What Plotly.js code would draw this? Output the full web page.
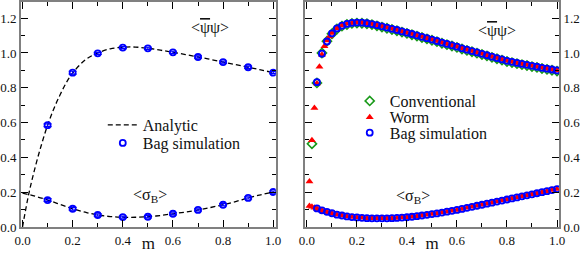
<!DOCTYPE html>
<html>
<head>
<meta charset="utf-8">
<script src="https://cdn.plot.ly/plotly-3.0.1.min.js"></script>
</head>
<body style="margin:0">
<div id="chart" style="width:581px;height:253px"></div>
<script>
// ---------- Left panel data ----------
var mAnPsi = [0, 0.025, 0.05, 0.075, 0.1, 0.125, 0.15, 0.175, 0.2, 0.25, 0.3, 0.35, 0.4, 0.45, 0.5, 0.55, 0.6, 0.65, 0.7, 0.75, 0.8, 0.85, 0.9, 0.95, 1.0];
var psiAn  = [0, 0.19, 0.34, 0.47, 0.585, 0.68, 0.76, 0.83, 0.885, 0.96, 1.0, 1.024, 1.033, 1.034, 1.027, 1.016, 1.004, 0.991, 0.977, 0.963, 0.948, 0.933, 0.918, 0.903, 0.887];
var mAnSig = [0, 0.05, 0.1, 0.15, 0.2, 0.25, 0.3, 0.35, 0.4, 0.45, 0.5, 0.55, 0.6, 0.65, 0.7, 0.75, 0.8, 0.85, 0.9, 0.95, 1.0];
var sigAn  = [0.195, 0.177, 0.155, 0.13, 0.105, 0.085, 0.069, 0.060, 0.056, 0.056, 0.059, 0.066, 0.076, 0.086, 0.098, 0.112, 0.128, 0.146, 0.167, 0.185, 0.201];
var mBagL   = [0.1, 0.2, 0.3, 0.4, 0.5, 0.6, 0.7, 0.8, 0.9, 1.0];
var psiBagL = [0.585, 0.887, 0.998, 1.031, 1.027, 1.004, 0.977, 0.948, 0.918, 0.887];
var sigBagL = [0.155, 0.105, 0.069, 0.057, 0.059, 0.076, 0.098, 0.128, 0.167, 0.201];
var errBagL = [0.008, 0.008, 0.006, 0.006, 0.006, 0.006, 0.006, 0.006, 0.006, 0.006];

// ---------- Right panel data ----------
var mWorm = [0.01,0.02,0.03,0.04,0.05,0.06,0.07,0.08,0.09,0.10,
  0.12,0.14,0.16,0.18,0.20,0.22,0.24,0.26,0.28,0.30,0.32,0.34,0.36,0.38,0.40,0.42,0.44,0.46,0.48,0.50,
  0.52,0.54,0.56,0.58,0.60,0.62,0.64,0.66,0.68,0.70,0.72,0.74,0.76,0.78,0.80,0.82,0.84,0.86,0.88,0.90,
  0.92,0.94,0.96,0.98,1.00];
var psiWorm = [0.262,0.498,0.684,0.825,0.921,0.990,1.038,1.072,1.095,1.115,
  1.142,1.158,1.168,1.173,1.175,1.174,1.171,1.166,1.160,1.153,1.146,1.139,1.132,1.124,1.117,1.109,1.101,1.093,1.085,1.077,
  1.069,1.060,1.052,1.044,1.036,1.027,1.019,1.011,1.003,0.995,0.987,0.979,0.971,0.963,0.955,0.949,0.943,0.937,0.932,0.926,
  0.921,0.915,0.910,0.905,0.900];
var sigWorm = [0.121,0.117,0.111,0.105,0.100,0.095,0.090,0.086,0.082,0.078,
  0.071,0.066,0.061,0.057,0.055,0.053,0.051,0.050,0.050,0.050,0.050,0.051,0.052,0.054,0.056,0.059,0.062,0.066,0.070,0.074,
  0.078,0.083,0.088,0.093,0.098,0.104,0.110,0.116,0.122,0.128,0.134,0.140,0.146,0.152,0.158,0.164,0.170,0.176,0.182,0.188,
  0.194,0.200,0.206,0.212,0.218];

var mConv = [0.02,0.04,0.06,0.08,0.10,
  0.12,0.14,0.16,0.18,0.20,0.22,0.24,0.26,0.28,0.30,0.32,0.34,0.36,0.38,0.40,0.42,0.44,0.46,0.48,0.50,
  0.52,0.54,0.56,0.58,0.60,0.62,0.64,0.66,0.68,0.70,0.72,0.74,0.76,0.78,0.80,0.82,0.84,0.86,0.88,0.90,
  0.92,0.94,0.96,0.98,1.00];
var psiConv = [0.478,0.828,1.000,1.068,1.110,
  1.138,1.154,1.164,1.170,1.172,1.171,1.168,1.163,1.156,1.149,1.142,1.135,1.128,1.120,1.113,1.105,1.097,1.089,1.081,1.073,
  1.065,1.056,1.048,1.040,1.032,1.023,1.015,1.007,0.999,0.991,0.983,0.975,0.967,0.959,0.951,0.945,0.939,0.933,0.928,0.922,
  0.917,0.911,0.906,0.901,0.896];

var mBagR = [0.04,0.06,0.08,0.10,
  0.12,0.14,0.16,0.18,0.20,0.22,0.24,0.26,0.28,0.30,0.32,0.34,0.36,0.38,0.40,0.42,0.44,0.46,0.48,0.50,
  0.52,0.54,0.56,0.58,0.60,0.62,0.64,0.66,0.68,0.70,0.72,0.74,0.76,0.78,0.80,0.82,0.84,0.86,0.88,0.90,
  0.92,0.94,0.96,0.98,1.00];
var psiBagR = [0.832,0.996,1.066,1.113,
  1.141,1.157,1.167,1.173,1.175,1.174,1.171,1.166,1.160,1.153,1.146,1.139,1.132,1.124,1.117,1.109,1.101,1.093,1.085,1.077,
  1.069,1.060,1.052,1.044,1.036,1.027,1.019,1.011,1.003,0.995,0.987,0.979,0.971,0.963,0.955,0.949,0.943,0.937,0.932,0.926,
  0.921,0.915,0.910,0.905,0.900];
var sigBagR = [0.107,0.096,0.087,0.079,
  0.071,0.066,0.061,0.057,0.055,0.053,0.051,0.050,0.050,0.050,0.050,0.051,0.052,0.054,0.056,0.059,0.062,0.066,0.070,0.074,
  0.078,0.083,0.088,0.093,0.098,0.104,0.110,0.116,0.122,0.128,0.134,0.140,0.146,0.152,0.158,0.164,0.170,0.176,0.182,0.188,
  0.194,0.200,0.206,0.212,0.218];

var tickVals = [0, 0.2, 0.4, 0.6, 0.8, 1.0];
var tickTextX = ['0.0', '0.2', '0.4', '0.6', '0.8', '1.0'];
var tickValsY = [0, 0.2, 0.4, 0.6, 0.8, 1.0, 1.2];
var tickTextY = ['0.0', '0.2', '0.4', '0.6', '0.8', '1.0', '1.2'];

var BLUE = '#0000ff', RED = '#ff0000', GREEN = '#1a9a1a';
var SERIF = 'Times New Roman';

var traces = [
  {x: mAnPsi, y: psiAn, xaxis: 'x', yaxis: 'y', mode: 'lines', name: 'Analytic', legend: 'legend',
   line: {color: '#000', width: 1.3, dash: '5px,3px', shape: 'spline'}},
  {x: mAnSig, y: sigAn, xaxis: 'x', yaxis: 'y', mode: 'lines', showlegend: false,
   line: {color: '#000', width: 1.3, dash: '5px,3px', shape: 'spline'}},
  {x: mBagL, y: psiBagL, xaxis: 'x', yaxis: 'y', mode: 'markers', name: 'Bag simulation', legend: 'legend2',
   marker: {symbol: 'circle-open', size: 6, color: BLUE, line: {width: 1.8, color: BLUE}},
   error_y: {type: 'data', array: errBagL, visible: true, color: BLUE, thickness: 1.2, width: 4}},
  {x: mBagL, y: sigBagL, xaxis: 'x', yaxis: 'y', mode: 'markers', showlegend: false,
   marker: {symbol: 'circle-open', size: 6, color: BLUE, line: {width: 1.8, color: BLUE}},
   error_y: {type: 'data', array: errBagL, visible: true, color: BLUE, thickness: 1.2, width: 4}},

  {x: mConv, y: psiConv, xaxis: 'x2', yaxis: 'y2', mode: 'markers', name: 'Conventional', legend: 'legend3',
   marker: {symbol: 'diamond-open', size: 7, color: GREEN, line: {width: 1.6, color: GREEN}}},
  {x: mWorm, y: psiWorm, xaxis: 'x2', yaxis: 'y2', mode: 'markers', name: 'Worm', legend: 'legend4',
   marker: {symbol: 'triangle-up', size: 7, color: RED, line: {width: 0}}},
  {x: mWorm, y: sigWorm, xaxis: 'x2', yaxis: 'y2', mode: 'markers', showlegend: false,
   marker: {symbol: 'triangle-up', size: 7, color: RED, line: {width: 0}}},
  {x: mBagR, y: psiBagR, xaxis: 'x2', yaxis: 'y2', mode: 'markers', name: 'Bag simulation', legend: 'legend5',
   marker: {symbol: 'circle-open', size: 6, color: BLUE, line: {width: 1.8, color: BLUE}}},
  {x: mBagR, y: sigBagR, xaxis: 'x2', yaxis: 'y2', mode: 'markers', showlegend: false,
   marker: {symbol: 'circle-open', size: 6, color: BLUE, line: {width: 1.8, color: BLUE}}}
];

function xax(domain, range) {
  return {domain: domain, range: range, tickmode: 'array', tickvals: tickVals, ticktext: tickTextX,
    ticks: 'inside', ticklen: 7, tickwidth: 1, tickcolor: '#000',
    minor: {dtick: 0.1, tick0: 0, ticks: 'inside', ticklen: 4, tickcolor: '#000', tickwidth: 1},
    showline: true, linecolor: '#808080', linewidth: 2, mirror: 'allticks',
    showgrid: false, zeroline: false, automargin: false,
    tickfont: {family: SERIF, size: 13},
    title: {text: 'm', font: {family: SERIF, size: 17}, standoff: 7}};
}
function yax(anchor, side) {
  return {anchor: anchor, side: side, range: [0, 1.293], tickmode: 'array', tickvals: tickValsY, ticktext: tickTextY,
    ticks: 'inside', ticklen: 7, tickwidth: 1, tickcolor: '#000',
    minor: {dtick: 0.1, tick0: 0, ticks: 'inside', ticklen: 4, tickcolor: '#000', tickwidth: 1},
    showline: true, linecolor: '#808080', linewidth: 2, mirror: 'allticks',
    showgrid: false, zeroline: false, automargin: false,
    tickfont: {family: SERIF, size: 13}};
}

var xa1 = xax([0, 0.4735], [-0.006, 1.01]);
var xa2 = xax([0.5287, 1], [-0.006, 1.008]);
xa2.anchor = 'y2';
var ya1 = yax('x', 'left');
var ya2 = yax('x2', 'right');

function leg(x, y) {
  return {x: x, y: y, xanchor: 'left', yanchor: 'middle', bgcolor: 'rgba(0,0,0,0)', borderwidth: 0,
    font: {family: SERIF, size: 16}, tracegroupgap: 0};
}

var annFont = {family: SERIF, size: 16};
var psiText = '&lt;<span style="text-decoration:overline">\u03C8</span>\u03C8&gt;';
var sigText = '&lt;\u03C3<sub>B</sub>&gt;';
var layout = {
  width: 581, height: 253,
  font: {family: SERIF, size: 13, color: '#111'},
  margin: {l: 21, r: 21.5, t: 2, b: 26},
  paper_bgcolor: '#fff', plot_bgcolor: '#fff',
  showlegend: true,
  xaxis: xa1, yaxis: ya1, xaxis2: xa2, yaxis2: ya2,
  legend: leg(0.152, 0.4533),
  legend2: leg(0.152, 0.3733),
  legend3: leg(0.611, 0.56),
  legend4: leg(0.611, 0.4876),
  legend5: leg(0.611, 0.419),
  annotations: [
    {xref: 'x', yref: 'y', x: 0.748, y: 1.144, text: psiText, showarrow: false, font: annFont},
    {xref: 'x', yref: 'y', x: 0.508, y: 0.18, text: sigText, showarrow: false, font: annFont},
    {xref: 'x2', yref: 'y2', x: 0.761, y: 1.128, text: psiText, showarrow: false, font: annFont},
    {xref: 'x2', yref: 'y2', x: 0.423, y: 0.175, text: sigText, showarrow: false, font: annFont}
  ]
};

Plotly.newPlot('chart', traces, layout, {displayModeBar: false, staticPlot: true});
</script>
</body>
</html>
